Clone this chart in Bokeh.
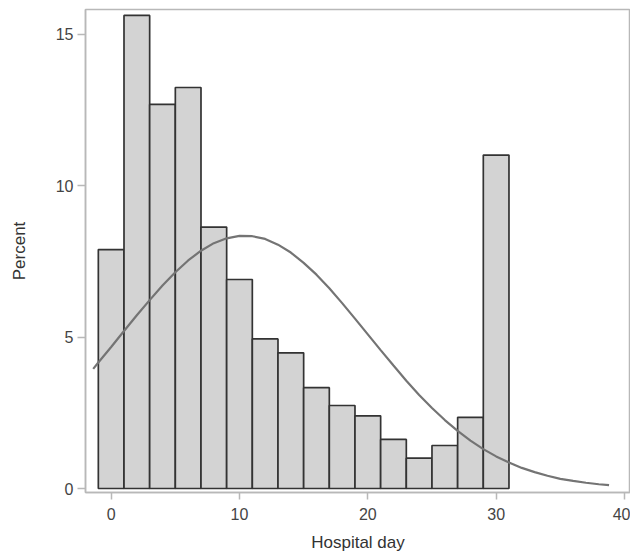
from bokeh.plotting import figure
from bokeh.models import Range1d, FixedTicker
from bokeh.embed import file_html
from bokeh.resources import INLINE

# Histogram: bin centres (hospital day) and percent of patients
bin_centers = [0, 2, 4, 6, 8, 10, 12, 14, 16, 18, 20, 22, 24, 26, 28, 30]
percent = [7.89, 15.62, 12.68, 13.24, 8.63, 6.90, 4.94, 4.48, 3.33, 2.74,
           2.40, 1.62, 1.00, 1.42, 2.35, 11.01]
bin_width = 2

# Fitted normal curve
curve_x = [-1.4, -1, 0, 1, 2, 3, 4, 5, 6, 7, 8, 9, 10, 11, 12, 13, 14, 15,
           16, 17, 18, 19, 20, 21, 22, 23, 24, 25, 26, 27, 28, 29, 30, 31,
           32, 33, 34, 35, 36, 37, 38, 38.8]
curve_y = [3.95, 4.16, 4.67, 5.20, 5.72, 6.22, 6.70, 7.14, 7.53, 7.85, 8.10,
           8.26, 8.34, 8.33, 8.24, 8.05, 7.79, 7.45, 7.06, 6.61, 6.12, 5.61,
           5.09, 4.57, 4.06, 3.56, 3.09, 2.66, 2.26, 1.90, 1.58, 1.30, 1.06,
           0.86, 0.68, 0.54, 0.42, 0.32, 0.25, 0.19, 0.14, 0.11]

x_ticks = [0, 10, 20, 30, 40]
y_ticks = [0, 5, 10, 15]

FONT = "Liberation Sans"

p = figure(width=630, height=556, output_backend="svg", toolbar_location=None,
           x_range=Range1d(-2.0, 40.47), y_range=Range1d(-0.132, 15.815),
           min_border_left=85, min_border_right=0, min_border_top=9,
           min_border_bottom=64)

p.vbar(x=bin_centers, width=bin_width, top=percent, bottom=0,
       fill_color="#d3d3d3", line_color="#333333", line_width=1.7)
p.line(curve_x, curve_y, line_color="#747474", line_width=2.2)

p.xgrid.visible = False
p.ygrid.visible = False
p.outline_line_color = "#b8b8b8"
p.outline_line_width = 1.5
p.background_fill_color = "white"
p.border_fill_color = "white"

for ax in (p.xaxis[0], p.yaxis[0]):
    ax.axis_line_color = "#b8b8b8"
    ax.axis_line_width = 1.5
    ax.major_tick_line_color = "#b8b8b8"
    ax.major_tick_line_width = 1.5
    ax.major_tick_in = 0
    ax.minor_tick_line_color = None
    ax.major_label_text_font = FONT
    ax.major_label_text_font_size = "16px"
    ax.major_label_text_color = "#444444"
    ax.axis_label_text_font = FONT
    ax.axis_label_text_font_size = "17px"
    ax.axis_label_text_font_style = "normal"
    ax.axis_label_text_color = "#333333"

p.xaxis.ticker = FixedTicker(ticks=x_ticks)
p.yaxis.ticker = FixedTicker(ticks=y_ticks)
p.xaxis.axis_label = "Hospital day"
p.yaxis.axis_label = "Percent"
p.xaxis.major_tick_out = 7
p.yaxis.major_tick_out = 8
p.xaxis.major_label_standoff = 8
p.yaxis.major_label_standoff = 4
p.xaxis.axis_label_standoff = 10
p.yaxis.axis_label_standoff = 24

open("out.html", "w").write(file_html(p, INLINE))
